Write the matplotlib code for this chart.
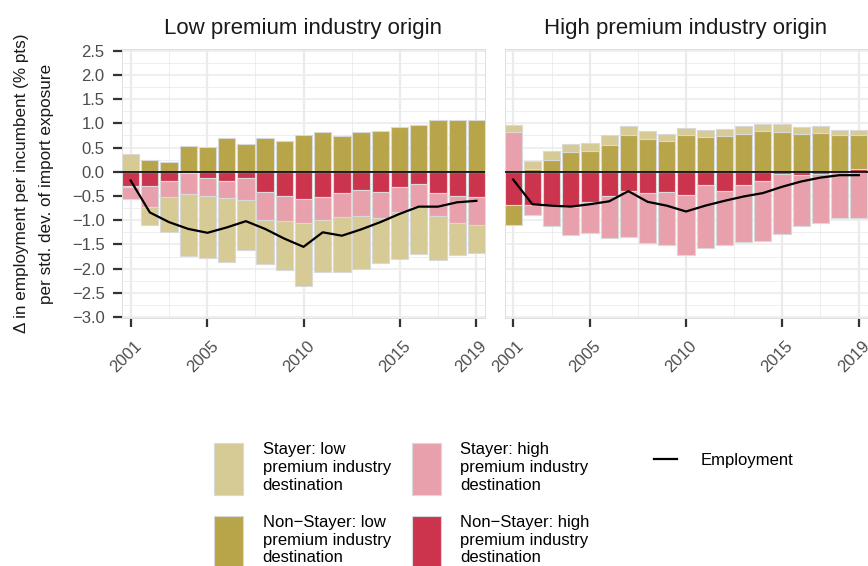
import matplotlib
matplotlib.use("Agg")
import matplotlib.pyplot as plt
from matplotlib.patches import Patch
from matplotlib.lines import Line2D
from matplotlib.ticker import MultipleLocator, FixedLocator, FuncFormatter
import matplotlib.transforms as mtransforms
import numpy as np

plt.rcParams['font.family'] = ['Liberation Sans', 'DejaVu Sans']

years = list(range(2001, 2020))
panel_titles = ["Low premium industry origin", "High premium industry origin"]

# low premium industry origin
stayer_low_L = [0.375, -0.36, -0.72, -1.27, -1.29, -1.32, -1.02, -0.91, -1.02, -1.30,
                -1.08, -1.12, -1.09, -0.94, -0.97, -0.98, -0.91, -0.65, -0.58]
stayer_high_L = [-0.24, -0.44, -0.32, -0.44, -0.37, -0.35, -0.47, -0.57, -0.52, -0.50,
                 -0.48, -0.50, -0.54, -0.53, -0.52, -0.46, -0.48, -0.55, -0.57]
nonstayer_low_L = [-0.03, 0.24, 0.20, 0.53, 0.51, 0.70, 0.57, 0.70, 0.63, 0.76,
                   0.82, 0.74, 0.82, 0.85, 0.92, 0.97, 1.08, 1.07, 1.06]
nonstayer_high_L = [-0.29, -0.29, -0.20, -0.02, -0.12, -0.20, -0.12, -0.42, -0.49, -0.56,
                    -0.52, -0.44, -0.38, -0.42, -0.32, -0.26, -0.43, -0.51, -0.52]
employment_L = [-0.18, -0.84, -1.04, -1.18, -1.26, -1.15, -1.02, -1.18, -1.38, -1.55,
                -1.25, -1.32, -1.19, -1.04, -0.87, -0.72, -0.72, -0.63, -0.60]

# high premium industry origin
stayer_low_R = [0.14, 0.17, 0.18, 0.17, 0.17, 0.20, 0.19, 0.17, 0.15, 0.15,
                0.15, 0.16, 0.16, 0.15, 0.16, 0.14, 0.14, 0.12, 0.12]
stayer_high_R = [0.82, -0.22, -0.44, -0.58, -0.63, -0.87, -0.94, -1.05, -1.09, -1.24,
                 -1.29, -1.12, -1.19, -1.23, -1.23, -1.05, -1.01, -0.95, -0.95]
nonstayer_low_R = [-0.42, 0.05, 0.25, 0.41, 0.42, 0.55, 0.75, 0.67, 0.63, 0.75,
                   0.72, 0.73, 0.78, 0.84, 0.82, 0.78, 0.80, 0.75, 0.70]
nonstayer_high_R = [-0.68, -0.68, -0.68, -0.72, -0.63, -0.49, -0.40, -0.43, -0.42, -0.48,
                    -0.28, -0.40, -0.27, -0.20, -0.05, -0.06, -0.05, -0.01, 0.05]
employment_R = [-0.16, -0.67, -0.70, -0.72, -0.67, -0.61, -0.40, -0.62, -0.70, -0.82,
                -0.70, -0.60, -0.51, -0.44, -0.31, -0.20, -0.12, -0.07, -0.07]

series_labels = ["Stayer: low\npremium industry\ndestination",
                 "Stayer: high\npremium industry\ndestination",
                 "Non\u2212Stayer: low\npremium industry\ndestination",
                 "Non\u2212Stayer: high\npremium industry\ndestination"]
colors = ["#D6CB94", "#E8A1AC", "#B8A449", "#CC334D"]
edge = "#D9D9D9"
grid_col = "#EBEBEB"
year_ticks = [2001, 2005, 2010, 2015, 2019]

fig = plt.figure(figsize=(8.68, 5.66), dpi=100)
W, H = 868, 566
top_px, bot_px = 49.3, 318
ax_left = fig.add_axes([122 / W, 1 - bot_px / H, 363 / W, (bot_px - top_px) / H])
ax_right = fig.add_axes([504.5 / W, 1 - bot_px / H, 363 / W, (bot_px - top_px) / H])

panels = [
    (ax_left, [stayer_low_L, stayer_high_L, nonstayer_low_L, nonstayer_high_L], employment_L),
    (ax_right, [stayer_low_R, stayer_high_R, nonstayer_low_R, nonstayer_high_R], employment_R),
]

x = np.array(years)
shift = mtransforms.ScaledTranslation(3 / 100, 0, fig.dpi_scale_trans)
for i, (ax, series, emp) in enumerate(panels):
    pos = np.zeros(len(years))
    neg = np.zeros(len(years))
    # ggplot stacks the last level closest to zero
    for vals, col in reversed(list(zip(series, colors))):
        v = np.array(vals)
        bottom = np.where(v >= 0, pos, neg)
        ax.bar(x, v, bottom=bottom, width=0.9, color=col, edgecolor=edge,
               linewidth=0.8, zorder=2)
        pos = pos + np.where(v >= 0, v, 0)
        neg = neg + np.where(v < 0, v, 0)
    ax.axhline(0, color="black", lw=1.2, zorder=3)
    ax.plot(x, emp, color="black", lw=1.6, zorder=4)

    ax.set_xlim(2000.55, 2019.45)
    ax.set_ylim(-3.02, 2.53)
    ax.xaxis.set_minor_locator(FixedLocator([2003, 2007.5, 2012.5, 2017]))
    ax.yaxis.set_major_locator(FixedLocator(np.arange(-3.0, 2.51, 0.5)))
    ax.yaxis.set_minor_locator(MultipleLocator(0.25))
    ax.yaxis.set_major_formatter(FuncFormatter(lambda v, p: f"{v:.1f}".replace("-", "\u2212")))
    ax.set_axisbelow(True)
    ax.grid(which="major", axis="x", color=grid_col, lw=1.6)
    ax.grid(which="major", axis="y", color=grid_col, lw=1.1)
    ax.grid(which="minor", color=grid_col, lw=0.6)
    for s in ax.spines.values():
        s.set_color("#DEDEDE")
        s.set_linewidth(0.7)
    ax.tick_params(which="minor", length=0)
    ax.tick_params(which="major", length=6.5, width=1.6, color="#333333",
                   labelsize=12, labelcolor="#4D4D4D")
    ax.tick_params(axis="x", pad=8)
    ax.tick_params(axis="y", pad=6)
    ax.set_xticks(year_ticks)
    ax.set_xticklabels([str(y) for y in year_ticks], rotation=45,
                       ha="right", va="top", rotation_mode="anchor")
    for lab in ax.get_xticklabels():
        lab.set_transform(lab.get_transform() + shift)
    ax.text(0.5, 1 + (top_px - 34.3) / (bot_px - top_px), panel_titles[i],
            transform=ax.transAxes, ha="center", va="baseline", fontsize=16,
            color="#1A1A1A")

ax_right.tick_params(axis="y", which="both", left=False, labelleft=False)

fig.text(34 / W, 1 - 183.5 / H,
         "\u0394 in employment per incumbent (% pts)\nper std. dev. of import exposure",
         rotation=90, ha="center", va="center", multialignment="center",
         fontsize=12.3, linespacing=1.8, color="#1A1A1A")

handles = [Patch(facecolor=c, edgecolor=edge, linewidth=0.8) for c in colors]
order = [0, 2, 1, 3]
leg = fig.legend([handles[k] for k in order], [series_labels[k] for k in order],
                 loc="upper left", bbox_to_anchor=(214 / W, 1 - 442 / H), ncol=2,
                 frameon=False, fontsize=12, handlelength=1.74, handleheight=4.42,
                 handletextpad=1.18, columnspacing=1.25, labelspacing=1.2,
                 borderpad=0, borderaxespad=0)
for t in leg.get_texts():
    t.set_linespacing(1.23)

leg2 = fig.legend([Line2D([0], [0], color="black", lw=1.6)], ["Employment"],
                  loc="center left", bbox_to_anchor=(654 / W, 1 - 460.7 / H),
                  frameon=False, fontsize=12, handlelength=1.4, handletextpad=1.38,
                  borderpad=0, borderaxespad=0)

fig.savefig("out.png", dpi=100)
